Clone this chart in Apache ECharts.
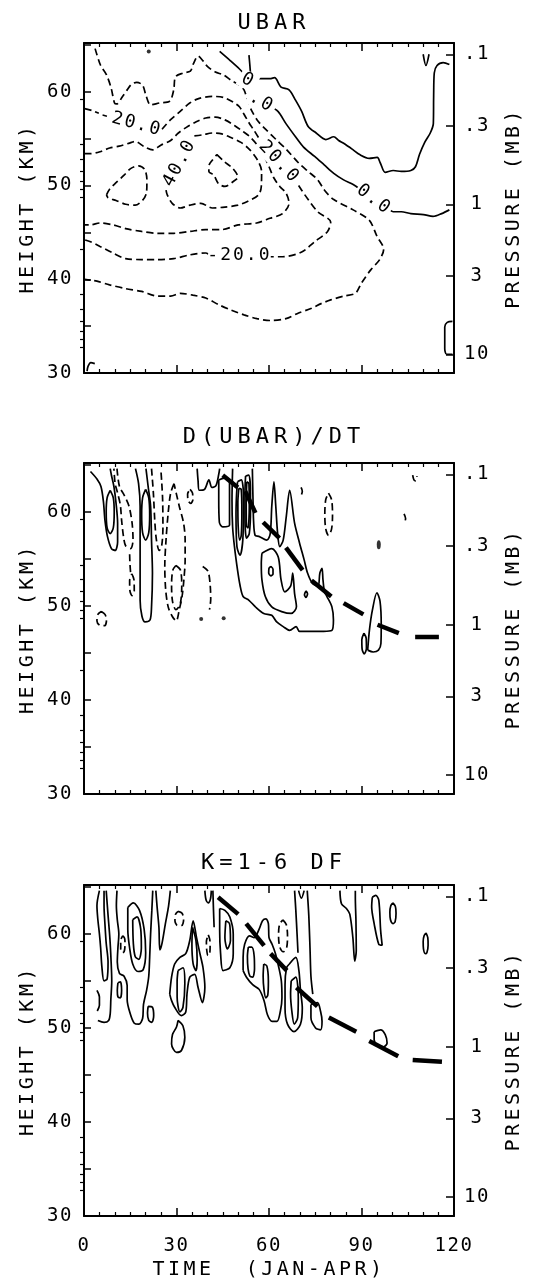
<!DOCTYPE html>
<html><head><meta charset="utf-8">
<script src="https://cdn.jsdelivr.net/npm/echarts@6/dist/echarts.min.js"></script>
<style>html,body{margin:0;padding:0;background:#fff}#c{width:549px;height:1280px}</style>
</head><body><div id="c"></div>
<script>
// ---------- tick labels / axis text ----------
const titles = ['UBAR', 'D(UBAR)/DT', 'K=1-6 DF'];
const timeTicks = [0, 30, 60, 90, 120];
const heightLabels = [30, 40, 50, 60];
const heightTicks = [30, 35, 40, 45, 50, 55, 60, 65];
const pressureLabels = ['.1', '.3', '1', '3', '10'];
const pressureValues = [0.1, 0.3, 1, 3, 10];
const pressureMinor = [0.2, 0.4, 0.5, 0.6, 0.7, 0.8, 0.9, 2, 4, 5, 6, 7, 8, 9];

// ---------- panel 1 : UBAR (day, km) ----------
const ubarSolid = [
  [[44.0,64.3],[47.5,63.3],[50.5,62.4],[52.2,61.8]],
  [[53.5,63.9],[53.8,62.8],[54.0,61.9]],
  [[54.4,61.4],[55.6,61.4],[60.3,61.4],[61.8,61.5],[63.9,60.5],[66.5,60.2],[68.6,59.1],[70.6,57.9],[72.7,56.3],[75.3,55.6],[78.4,54.9],[81.0,55.2],[82.6,54.8],[84.2,54.5],[87.3,53.8],[89.4,53.3],[92.5,52.9],[95.1,53.0],[96.1,52.4],[97.7,51.4],[100.3,51.6],[102.9,51.5],[106.0,51.6],[107.5,52.0],[108.8,53.3],[110.5,54.6],[112.3,55.6],[113.3,56.6],[113.4,59.5],[113.6,62.0],[114.5,62.8],[116.5,63.1],[118.5,62.9]],
  [[60.0,58.5],[62.9,57.9],[65.5,56.6],[68.6,55.2],[71.2,54.1],[74.8,53.1],[77.9,52.2],[81.0,51.3],[84.2,50.6],[87.3,50.1],[89.5,49.6]],
  [[99.2,47.4],[100.3,47.2],[102.9,47.2],[106.0,47.0],[110.1,46.9],[113.2,46.7],[116.0,47.0],[118.5,47.4]],
  [[110.0,64.0],[110.9,62.8],[111.9,64.0]],
  [[119.5,35.5],[117.8,35.4],[117.0,34.9],[117.0,32.6],[117.6,32.0],[119.5,32.0]],
  [[3.5,31.0],[2.2,31.1],[1.3,30.7],[1.0,30.2]]
];
const ubarDashed = [
  [[3.6,64.6],[5.4,62.8],[7.3,61.8],[8.8,60.4],[9.9,58.8],[10.6,58.7],[12.5,59.5],[14.0,60.2],[15.4,60.8],[17.1,61.0],[19.0,60.7],[20.1,59.6],[21.6,58.6],[24.4,58.8],[27.8,59.0],[29.1,60.2],[29.7,61.6],[32.2,62.0],[34.5,62.2],[35.5,63.0],[37.0,63.8],[38.6,63.3],[40.0,62.7],[42.6,62.1],[45.2,61.8],[47.8,61.2],[50.4,60.7],[51.9,60.2],[53.0,59.1],[54.5,57.9],[56.6,56.8],[59.2,55.9],[62.3,54.9],[65.5,53.9],[69.6,52.4],[72.7,51.5],[75.8,50.6],[78.0,49.5],[81.0,48.5],[87.3,47.4],[92.5,46.3],[95.0,44.6],[97.2,43.2],[95.9,42.1],[93.0,41.0],[90.0,39.6],[88.0,38.5],[84.2,38.2],[80.0,37.8],[76.9,37.4],[73.8,36.9],[69.6,36.4],[65.5,35.8],[60.3,35.6],[56.1,35.8],[51.9,36.2],[47.8,36.7],[43.6,37.3],[39.5,38.0],[35.3,38.3],[31.2,38.5],[28.1,38.2],[23.9,38.2],[18.7,38.7],[13.5,39.0],[8.3,39.4],[4.2,39.8],[2.1,39.9],[0.2,40.0]],
  [[0.2,58.2],[2.5,58.0],[4.8,57.7]],
  [[25.3,56.0],[28.0,57.0],[31.2,57.9],[34.3,58.8],[37.4,59.3],[41.6,59.5],[45.2,59.4],[48.3,58.9],[50.4,58.4],[51.9,57.6],[53.5,56.7],[55.3,55.8],[56.8,55.0]],
  [[69.6,50.0],[70.6,49.5],[72.7,48.5],[75.8,47.2],[80.0,46.1],[79.0,45.1],[74.8,44.0],[70.6,42.9],[64.4,42.4],[60.5,42.4]],
  [[40.3,42.7],[39.5,42.8],[34.3,42.6],[29.1,42.2],[23.9,42.1],[18.7,42.1],[13.5,42.2],[9.4,42.8],[5.2,43.5],[2.1,44.0],[0.2,44.2]],
  [[0.2,53.4],[2.1,53.4],[5.2,53.6],[8.3,54.0],[11.4,54.2],[14.5,54.5],[16.6,54.7],[19.7,54.1],[22.3,53.8],[24.9,54.3],[28.1,54.8],[30.6,55.6],[33.2,56.2],[36.4,56.8],[39.5,57.2],[42.6,57.3],[45.7,57.0],[48.8,56.4],[51.4,55.8],[53.8,55.2],[56.0,54.4],[58.2,53.3],[60.0,52.0],[61.6,50.8],[63.5,49.9],[65.5,49.2],[66.5,48.1],[64.4,47.0],[60.3,46.5],[56.0,46.0],[50.0,45.8],[44.7,45.3],[39.5,45.3],[34.3,45.1],[29.1,44.9],[23.9,44.9],[18.7,45.1],[13.5,45.4],[9.4,45.8],[5.2,46.0],[2.1,45.8],[0.2,45.8]],
  [[35.8,55.3],[38.4,55.4],[41.6,55.6],[44.7,55.5],[47.8,55.1],[50.9,54.6],[53.8,53.8],[56.3,52.7],[57.6,51.5],[57.5,49.9],[56.6,49.0],[53.0,48.3],[49.9,47.9],[45.7,47.7],[41.6,47.6],[37.9,48.1],[34.3,47.9],[31.2,47.6],[28.6,48.1],[27.0,49.0],[26.6,49.5]],
  [[7.3,49.0],[8.3,49.6],[10.4,50.3],[13.0,51.1],[15.1,51.8],[17.7,52.1],[19.7,51.7],[20.4,50.6],[20.3,49.3],[19.2,48.5],[16.6,47.9],[13.5,48.0],[10.4,48.4],[7.8,48.7],[7.3,49.0]],
  [[43.1,53.3],[45.7,52.5],[48.3,51.8],[49.9,50.9],[48.3,50.4],[45.7,49.9],[43.6,50.2],[42.1,51.1],[40.5,51.5],[40.6,52.2],[41.6,52.7],[43.1,53.3]]
];
const ubarDots = [[21.0,64.3]];
const ubarLabels = [
  [15.1, 56.7, '-20.0'],
  [31.0, 52.4, '40.0'],
  [63.3, 52.5, '20.0'],
  [50.4, 42.5, '-20.0'],
  [53.2, 61.2, '0'],
  [57.6, 58.9, '.0'],
  [94.0, 48.5, '0.0']
];

// ---------- panel 2 : D(UBAR)/DT ----------
const dudtSolid = [
  [[2.1,64.3],[4.2,63.5],[5.5,62.7],[6.3,61.1],[6.8,59.1],[7.6,57.4],[8.9,56.1],[10.1,55.9],[10.9,56.8],[10.9,58.8],[10.4,60.9],[9.7,62.7],[8.9,63.9],[8.5,64.6]],
  [[8.5,62.3],[9.5,61.5],[9.8,60.0],[9.5,58.3],[8.5,57.7],[7.5,58.3],[7.2,60.0],[7.5,61.5],[8.5,62.3]],
  [[16.7,64.6],[17.7,63.0],[18.2,60.6],[18.2,57.0],[18.2,53.5],[18.2,50.6],[18.8,48.9],[19.8,48.3],[21.4,48.5],[21.9,49.9],[22.2,53.5],[21.9,57.0],[21.6,60.6],[20.8,62.7],[20.1,64.6]],
  [[20.0,62.4],[21.0,61.5],[21.3,59.7],[21.0,57.8],[20.0,57.0],[19.0,57.8],[18.7,59.7],[19.0,61.5],[20.0,62.4]],
  [[36.7,64.6],[37.0,63.3],[37.4,62.3],[39.1,62.4],[40.5,63.4],[41.5,62.6],[42.8,62.8],[43.7,64.0],[44.0,64.6]],
  [[43.7,63.4],[45.5,63.6],[47.2,63.4],[47.2,61.4],[47.2,58.6],[45.0,58.4],[43.9,58.9],[43.7,61.4],[43.7,63.4]],
  [[48.2,64.6],[48.0,61.2],[48.2,58.4],[48.8,56.3],[49.8,53.8],[50.6,52.2],[51.6,51.0],[53.5,50.6],[55.6,49.9],[58.3,49.2],[60.9,49.0],[62.5,48.3],[64.6,47.8],[66.7,47.4],[68.8,47.8],[69.9,47.3],[74.6,47.3],[77.7,47.3],[80.4,47.4],[80.9,48.5],[80.4,49.9],[78.8,51.0],[78.0,51.5],[77.5,52.8],[77.2,54.0],[76.5,53.5],[75.9,52.1],[74.1,52.4],[72.5,53.5],[71.4,54.9],[69.9,56.7],[68.3,58.8],[66.7,62.3],[65.6,59.5],[64.6,57.0],[63.5,56.3],[62.8,57.7],[62.2,60.6],[61.6,63.2],[60.9,60.6],[60.4,57.7],[59.3,57.0],[56.7,57.4],[55.5,57.5],[55.0,59.0],[54.8,61.5],[54.6,64.6]],
  [[49.8,63.2],[51.0,63.4],[51.7,62.0],[51.7,60.2],[51.5,57.0],[50.6,55.4],[49.6,56.3],[49.3,59.8],[49.5,62.0],[49.8,63.2]],
  [[50.2,62.5],[51.0,62.4],[51.2,60.0],[51.0,57.5],[50.5,57.0],[50.0,58.5],[49.9,61.0],[50.2,62.5]],
  [[52.4,63.8],[53.4,63.9],[54.0,62.0],[54.0,60.2],[53.6,57.7],[52.7,57.2],[52.2,59.5],[52.2,62.0],[52.4,63.8]],
  [[52.8,63.2],[53.5,63.0],[53.6,60.5],[53.2,58.3],[52.7,58.5],[52.6,61.0],[52.8,63.2]],
  [[57.7,55.6],[60.9,56.1],[63.0,55.2],[63.9,52.8],[65.1,51.5],[67.0,52.1],[67.7,53.5],[68.3,51.3],[68.9,49.9],[67.2,49.2],[64.1,49.4],[60.9,49.9],[58.8,51.0],[57.7,52.8],[57.5,54.5],[57.7,55.6]],
  [[60.6,54.2],[61.3,53.9],[61.3,53.4],[60.6,53.2],[59.9,53.5],[60.0,54.0],[60.6,54.2]],
  [[72.0,51.6],[72.5,51.3],[72.0,50.9],[71.5,51.2],[72.0,51.6]],
  [[92.0,45.3],[92.6,47.5],[93.5,49.5],[95.0,51.4],[96.0,50.5],[96.4,48.0],[96.3,46.0],[95.5,45.3],[93.8,45.1],[92.0,45.3]],
  [[90.8,47.1],[91.5,46.6],[91.6,45.5],[90.9,44.9],[90.2,45.4],[90.1,46.4],[90.8,47.1]]
];
const dudtDashed = [
  [[10.7,64.6],[11.5,62.7],[13.0,61.8],[14.6,60.6],[15.6,58.8],[15.9,57.0],[15.1,56.1],[13.5,56.4],[12.8,57.4],[12.2,59.1],[11.8,60.7],[10.9,62.0],[10.1,63.0],[9.7,64.6]],
  [[14.8,55.5],[14.9,54.5],[15.1,53.6]],
  [[15.5,53.4],[16.2,52.8],[16.3,51.6],[15.6,51.1],[14.9,51.6],[14.8,52.7],[15.5,53.4]],
  [[5.6,49.4],[6.8,49.1],[7.3,48.5],[6.7,47.9],[5.4,47.9],[4.2,48.4],[4.5,49.1],[5.6,49.4]],
  [[21.9,64.6],[22.5,62.0],[23.0,58.8],[23.5,57.0],[24.4,55.9],[25.2,56.4],[25.6,58.4],[25.5,61.3],[25.2,63.2],[24.9,64.6]],
  [[29.2,63.0],[28.1,62.0],[27.3,59.9],[26.6,57.0],[26.2,54.2],[26.5,51.7],[27.3,49.9],[28.6,48.9],[29.9,48.4],[30.9,49.6],[31.8,51.0],[32.4,52.8],[32.8,54.9],[32.8,57.0],[32.3,58.8],[30.9,60.6],[29.9,62.0],[29.2,63.0]],
  [[29.8,54.3],[31.3,53.8],[31.7,52.1],[31.2,50.2],[29.8,49.6],[28.7,50.5],[28.4,52.3],[28.8,53.8],[29.8,54.3]],
  [[34.4,62.4],[35.2,62.0],[35.3,61.3],[34.6,60.9],[33.8,61.2],[33.6,61.9],[34.4,62.4]],
  [[38.5,54.2],[40.2,53.7],[40.9,52.3],[41.1,50.7],[40.7,49.6]],
  [[79.3,62.0],[80.3,61.3],[80.6,59.7],[80.3,58.2],[79.3,57.5],[78.4,58.2],[78.1,59.7],[78.4,61.3],[79.3,62.0]],
  [[70.4,62.6],[70.8,62.2],[70.5,61.8]],
  [[103.8,59.8],[104.3,59.3],[103.9,58.8]],
  [[106.6,63.9],[107.0,63.4],[107.6,63.3],[108.0,63.8]]
];
const dudtDots = [[38.0,48.6],[45.3,48.7]];
const dudtBlobs = [[95.6,56.5]];
const dudtZeroWind = [
  [[45.0,63.9],[49.9,62.6]],
  [[52.3,62.2],[55.6,59.9]],
  [[58.1,58.9],[63.4,57.2]],
  [[65.5,56.2],[70.9,53.8]],
  [[73.8,52.7],[80.2,51.0]],
  [[84.2,50.3],[90.6,49.1]],
  [[95.2,48.0],[102.1,47.1]],
  [[107.4,46.7],[115.1,46.7]]
];

// ---------- panel 3 : K=1-6 DF ----------
const dfSolid = [
  [[5.0,64.6],[4.2,63.0],[4.5,61.5],[5.0,60.0],[5.4,58.5],[5.8,56.5],[6.5,55.0],[7.5,55.2],[7.8,57.0],[7.2,59.0],[6.8,61.0],[6.5,63.0],[6.5,64.6]],
  [[7.2,64.6],[7.8,62.0],[8.4,59.5],[8.8,57.0],[9.0,55.0],[8.7,53.0],[8.5,51.5],[8.0,50.8],[6.5,50.6],[4.5,50.8]],
  [[4.2,54.0],[5.0,53.3],[5.0,52.4],[4.3,51.8]],
  [[10.7,64.6],[10.5,63.0],[10.8,61.5],[11.3,60.0],[11.0,58.5],[10.8,57.0],[11.5,55.8],[13.0,55.5],[14.0,54.5],[14.0,53.0],[15.0,51.5],[16.3,50.5],[17.8,50.4],[19.0,51.0],[19.3,52.5],[20.3,54.0],[21.0,55.5],[21.3,57.5],[21.6,60.0],[22.0,62.5],[22.3,64.6]],
  [[14.2,62.8],[16.0,63.3],[18.0,62.5],[19.5,60.5],[20.0,58.0],[19.2,56.2],[17.5,56.0],[15.8,56.8],[14.8,58.5],[14.2,60.5],[14.2,62.8]],
  [[15.8,61.5],[17.2,61.8],[18.4,60.5],[18.6,58.5],[17.8,57.3],[16.6,57.6],[16.0,59.0],[15.8,61.5]],
  [[11.0,54.8],[11.8,54.9],[12.2,54.0],[11.8,53.2],[11.0,53.3],[10.8,54.0],[11.0,54.8]],
  [[20.8,52.3],[22.2,52.2],[22.6,51.3],[22.0,50.6],[21.0,50.8],[20.6,51.6],[20.8,52.3]],
  [[23.3,64.6],[23.7,62.9],[24.3,60.7],[24.6,58.3],[25.3,59.0],[26.4,61.1],[27.4,62.9],[28.0,64.6]],
  [[27.8,53.6],[28.4,55.4],[29.4,56.8],[31.1,57.5],[33.0,57.9],[34.3,59.3],[35.4,61.4],[36.5,59.6],[37.6,57.9],[38.6,56.4],[39.2,54.3],[38.4,52.7],[37.0,54.3],[35.9,55.7],[34.3,55.4],[33.4,53.6],[33.0,51.7],[31.6,51.3],[29.4,52.2],[28.4,52.9],[27.8,53.6]],
  [[30.5,56.1],[32.1,56.4],[32.7,54.7],[32.1,52.2],[31.1,51.7],[30.2,53.3],[30.2,55.0],[30.5,56.1]],
  [[35.2,60.7],[36.3,59.3],[36.7,57.2],[36.3,56.1],[35.4,56.8],[35.0,58.9],[35.2,60.7]],
  [[30.5,50.8],[32.1,50.2],[32.7,49.0],[31.6,47.6],[30.0,47.4],[28.4,48.3],[28.7,49.3],[30.0,50.1],[30.5,50.8]],
  [[39.2,64.6],[39.6,63.6],[40.3,63.3],[41.0,63.7],[41.3,64.6]],
  [[41.8,64.6],[42.0,62.5],[42.2,60.7]],
  [[44.0,62.7],[45.7,62.5],[47.3,61.8],[48.4,60.0],[48.4,57.9],[47.3,56.4],[45.1,56.1],[44.3,57.9],[44.0,60.4],[44.0,62.7]],
  [[46.0,61.4],[47.2,61.1],[47.5,59.3],[46.5,58.4],[45.7,59.6],[46.0,61.4]],
  [[51.6,56.1],[52.7,55.4],[54.7,54.6],[56.8,54.1],[58.4,52.9],[59.5,51.4],[61.0,50.7],[62.6,50.7],[63.7,51.8],[64.2,53.2],[64.0,55.0],[63.2,56.4],[62.1,57.9],[61.0,58.9],[60.0,59.6],[59.8,61.1],[59.0,61.6],[57.9,61.4],[56.8,60.5],[55.2,59.6],[53.7,59.8],[52.1,58.9],[51.6,57.5],[51.6,56.1]],
  [[53.3,58.6],[54.4,58.6],[55.2,57.6],[55.3,56.3],[54.7,55.4],[53.8,55.5],[53.2,56.3],[53.0,57.6],[53.3,58.6]],
  [[58.3,56.8],[59.3,56.6],[59.8,55.0],[59.6,53.5],[59.0,53.2],[58.4,54.0],[58.1,55.5],[58.3,56.8]],
  [[68.3,64.6],[68.7,62.5],[69.1,60.0],[69.4,58.0]],
  [[69.6,64.6],[70.5,63.8],[71.4,64.6]],
  [[72.4,64.6],[72.9,62.0],[73.3,58.5],[73.6,55.5],[74.2,53.6]],
  [[66.6,56.8],[68.7,57.5],[69.7,56.1],[70.2,54.0],[70.8,52.1],[70.2,50.4],[68.1,49.6],[66.0,50.4],[65.2,52.1],[65.2,54.6],[65.7,56.4],[66.6,56.8]],
  [[67.2,55.0],[68.7,55.4],[69.5,53.2],[69.3,51.1],[68.2,50.4],[67.4,51.8],[67.0,53.6],[67.2,55.0]],
  [[73.6,52.5],[75.7,52.7],[76.7,51.8],[77.2,50.7],[76.7,49.8],[75.1,50.0],[73.6,51.1],[73.6,52.5]],
  [[83.0,64.6],[83.5,63.2],[85.1,62.7],[86.2,62.1],[87.2,59.6],[87.8,57.1],[88.3,58.2],[88.2,61.4],[88.0,63.9],[88.0,64.6]],
  [[93.5,63.9],[94.6,64.1],[95.6,63.6],[96.2,60.4],[96.7,58.8],[95.6,58.9],[94.1,61.1],[93.3,62.9],[93.5,63.9]],
  [[100.2,63.3],[101.0,62.9],[101.2,62.2],[100.9,61.3],[100.2,61.1],[99.4,61.5],[99.2,62.3],[99.5,63.0],[100.2,63.3]],
  [[110.9,60.1],[111.5,59.6],[111.6,58.8],[111.2,58.0],[110.7,57.9],[110.1,58.4],[110.0,59.2],[110.3,59.8],[110.9,60.1]],
  [[94.1,49.6],[96.2,49.8],[97.7,49.3],[98.3,48.4],[97.2,48.0],[95.1,48.2],[94.1,48.75],[94.1,49.6]]
];
const dfDashed = [
  [[12.6,59.8],[13.2,59.5],[13.3,58.8],[13.0,58.1],[12.4,58.0],[11.9,58.4],[11.9,59.3],[12.6,59.8]],
  [[30.5,62.4],[31.8,62.2],[32.3,61.5],[31.7,60.9],[30.3,60.9],[29.5,61.4],[29.7,62.1],[30.5,62.4]],
  [[40.3,59.9],[40.8,59.4],[40.9,58.6],[40.7,57.8],[40.2,57.7],[39.8,58.3],[39.7,59.2],[40.3,59.9]],
  [[64.5,61.5],[65.6,61.0],[66.0,59.8],[65.7,58.5],[64.6,58.1],[63.5,58.6],[63.1,59.8],[63.4,61.0],[64.5,61.5]]
];
const dfZeroWind = [
  [[43.5,63.9],[50.0,62.1]],
  [[52.6,61.1],[58.4,58.75]],
  [[60.5,57.9],[65.8,56.1]],
  [[68.9,54.3],[75.7,52.3]],
  [[79.4,51.1],[88.3,49.6]],
  [[92.5,48.6],[101.9,47.0]],
  [[106.6,46.6],[116.1,46.4]]
];

// ---------- wide letter spacing of the plotter lettering ----------
(function () {
  const SPACING = {22: 5, 20: 3.5, 19: 1.6, 18: 2};
  const proto = CanvasRenderingContext2D.prototype;
  if (!('letterSpacing' in proto)) return;
  ['fillText', 'strokeText'].forEach(function (name) {
    const f = proto[name];
    proto[name] = function () {
      const m = /(\d+(?:\.\d+)?)px/.exec(this.font);
      const sp = m ? SPACING[Math.round(+m[1])] : 0;
      if (sp) {
        const old = this.letterSpacing;
        this.letterSpacing = sp + 'px';
        const r = f.apply(this, arguments);
        this.letterSpacing = old;
        return r;
      }
      return f.apply(this, arguments);
    };
  });
})();

// ---------- layout ----------
const FONT = '"DejaVu Sans Mono", "Liberation Mono", monospace';
const GRID_LEFT = 84, GRID_W = 370;
const gridTops = [43, 463, 885];
const gridHeights = [330, 331, 331];
const titleTops = [7, 421, 847];
const Y_MIN = 30, Y_MAX = 65.2;
// log-pressure relation: 1 mb at 48 km, 16 km per decade
const KM_AT_1MB = 48, KM_PER_DECADE = 16;
const pToKm = p => KM_AT_1MB - KM_PER_DECADE * Math.log10(p);
const ubarLabelRotate = [-15, 62, -47, 0, -28, -30, -37];

const black = '#000';
const grids = [], xAxes = [], yAxes = [], titleOpts = [];
gridTops.forEach((top, g) => {
  grids.push({left: GRID_LEFT, top: top, width: GRID_W, height: gridHeights[g], containLabel: false, outerBoundsMode: 'none'});
  titleOpts.push({text: titles[g], left: GRID_LEFT + GRID_W / 2, textAlign: 'center', top: titleTops[g],
    textStyle: {fontFamily: FONT, fontSize: 22, fontWeight: 'normal', color: black}});
  const last = g === 2;
  const xBase = {
    gridIndex: g, type: 'value', min: timeTicks[0], max: timeTicks[timeTicks.length - 1], interval: 30,
    axisLine: {show: true, onZero: false, lineStyle: {color: black, width: 2}},
    axisTick: {show: true, inside: true, length: 8, lineStyle: {color: black, width: 1.5}},
    minorTick: {show: true, splitNumber: 6, length: 4, lineStyle: {color: black, width: 1.2}},
    splitLine: {show: false}, minorSplitLine: {show: false}
  };
  xAxes.push(Object.assign({}, xBase, {
    position: 'bottom',
    axisLabel: {show: last, margin: 21, color: black, fontFamily: FONT, fontSize: 19},
    name: last ? 'TIME  (JAN-APR)' : '', nameLocation: 'middle', nameGap: 44, nameMoveOverlap: false,
    nameTextStyle: {fontFamily: FONT, fontSize: 20, color: black}
  }));
  xAxes.push(Object.assign({}, xBase, {position: 'top', axisLabel: {show: false}}));
  const yBase = {
    gridIndex: g, type: 'value', min: Y_MIN, max: Y_MAX,
    splitLine: {show: false}, nameMoveOverlap: false
  };
  yAxes.push(Object.assign({}, yBase, {
    position: 'left',
    axisLine: {show: true, onZero: false, lineStyle: {color: black, width: 2}},
    axisTick: {show: true, inside: true, length: 7, customValues: heightTicks, lineStyle: {color: black, width: 1.5}},
    axisLabel: {show: true, customValues: heightLabels, margin: 11, color: black, fontFamily: FONT, fontSize: 19},
    name: 'HEIGHT (KM)', nameLocation: 'middle', nameRotate: 90, nameGap: 46,
    nameTextStyle: {fontFamily: FONT, fontSize: 20, color: black}
  }));
  yAxes.push(Object.assign({}, yBase, {
    position: 'right',
    axisLine: {show: true, onZero: false, lineStyle: {color: black, width: 2}},
    axisTick: {show: true, inside: true, length: 8, customValues: pressureValues.map(pToKm), lineStyle: {color: black, width: 1.5}},
    axisLabel: {show: true, customValues: pressureValues.map(pToKm), margin: 23, align: 'center', color: black, fontFamily: FONT, fontSize: 19,
      formatter: v => {
        let best = 0;
        pressureValues.forEach((p, i) => { if (Math.abs(pToKm(p) - v) < Math.abs(pToKm(pressureValues[best]) - v)) best = i; });
        return pressureLabels[best];
      }},
    name: 'PRESSURE (MB)', nameLocation: 'middle', nameRotate: 90, nameGap: 50,
    nameTextStyle: {fontFamily: FONT, fontSize: 20, color: black}
  }));
  yAxes.push(Object.assign({}, yBase, {
    position: 'right',
    axisLine: {show: false},
    axisTick: {show: true, inside: true, length: 4, customValues: pressureMinor.map(pToKm), lineStyle: {color: black, width: 1.2}},
    axisLabel: {show: false}
  }));
});

// ---------- series ----------
const panels = [
  {solid: ubarSolid, dashed: ubarDashed, dots: ubarDots, labels: ubarLabels},
  {solid: dudtSolid, dashed: dudtDashed, thick: dudtZeroWind, dots: dudtDots, blobs: dudtBlobs},
  {solid: dfSolid, dashed: dfDashed, thick: dfZeroWind}
];
const series = [];
panels.forEach((p, g) => {
  const ax = {xAxisIndex: 2 * g, yAxisIndex: 3 * g};
  const base = Object.assign({type: 'line', symbol: 'none', silent: true, clip: true}, ax);
  (p.solid || []).forEach(line => series.push(Object.assign({}, base, {data: line, smooth: 0.3,
    lineStyle: {color: black, width: 1.7}})));
  (p.dashed || []).forEach(line => series.push(Object.assign({}, base, {data: line, smooth: 0.3,
    lineStyle: {color: black, width: 1.7, type: [7, 4]}})));
  (p.thick || []).forEach(seg => series.push(Object.assign({}, base, {data: seg, smooth: false,
    lineStyle: {color: black, width: 4.5}})));
  if (p.dots) series.push(Object.assign({type: 'scatter', silent: true, data: p.dots, symbolSize: 4,
    itemStyle: {color: black}}, ax));
  if (p.blobs) series.push(Object.assign({type: 'scatter', silent: true, data: p.blobs, symbolSize: [4, 9],
    itemStyle: {color: black}}, ax));
  if (p.labels) series.push(Object.assign({type: 'scatter', silent: true, z: 10, symbolSize: 1,
    itemStyle: {color: '#fff', opacity: 1},
    data: p.labels.map((l, i) => ({value: [l[0], l[1]], label: {formatter: l[2], rotate: ubarLabelRotate[i]}})),
    label: {show: true, position: 'inside', color: black, opacity: 1, textBorderWidth: 0, fontFamily: FONT, fontSize: 18,
      backgroundColor: '#fff', padding: [0, 4]}}, ax));
});

const chart = echarts.init(document.getElementById('c'), null, {renderer: 'canvas'});
chart.setOption({
  animation: false,
  backgroundColor: '#fff',
  title: titleOpts,
  grid: grids,
  xAxis: xAxes,
  yAxis: yAxes,
  series: series
});
</script>
</body></html>
